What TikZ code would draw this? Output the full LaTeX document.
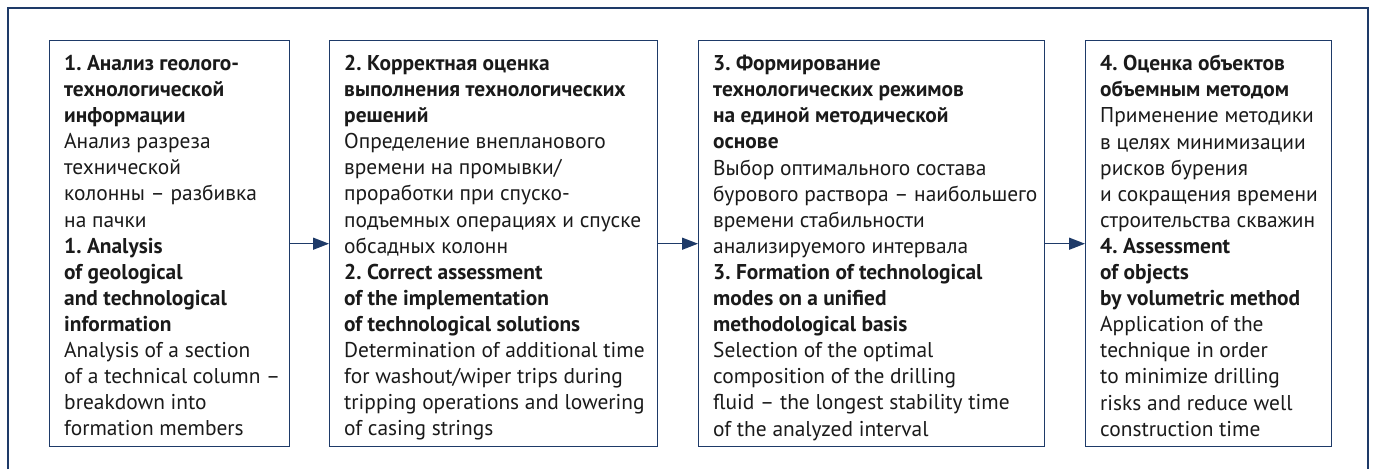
\documentclass[tikz,border=0pt]{standalone}
\usepackage{fontspec}
\setmainfont{PT Sans}
\usetikzlibrary{arrows.meta}
\definecolor{navy}{HTML}{1E3A68}
\definecolor{ink}{HTML}{1A1A1A}
\tikzset{
  stagebox/.style={draw=navy, line width=1.4pt, fill=white, anchor=north west,
    minimum height=406pt, inner sep=0pt},
  stagetext/.style={anchor=north west, inner sep=0pt, align=left, text=ink,
    font=\fontsize{21.4}{26.1}\selectfont},
  flow/.style={draw=navy, line width=1.4pt, -{Triangle[length=16pt,width=12pt]}, color=navy},
}
\newcommand{\hd}[1]{\textbf{#1}}
\begin{document}
\frenchspacing
\begin{tikzpicture}[x=1pt,y=-1pt]
\useasboundingbox (0,0) rectangle (1375,469);
% outer frame, open at the bottom
\draw[navy, line width=1.4pt] (8,469) -- (8,8) -- (1368,8) -- (1368,469);

% the four stage boxes
\node[stagebox, minimum width=240pt] (b1) at (49,40) {};
\node[stagebox, minimum width=328pt] (b2) at (329,40) {};
\node[stagebox, minimum width=346pt] (b3) at (698,40) {};
\node[stagebox, minimum width=246pt] (b4) at (1085,40) {};

\node[stagetext] (t1) at (64,55) {%
\hd{1. Анализ геолого-}\\
\hd{технологической}\\
\hd{информации}\\
Анализ разреза\\
технической\\
колонны – разбивка\\
на пачки\\
\hd{1. Analysis}\\
\hd{of geological}\\
\hd{and technological}\\
\hd{information}\\
Analysis of a section\\
of a technical column –\\
breakdown into\\
formation members};

\node[stagetext] (t2) at (344,55) {%
\hd{2. Корректная оценка}\\
\hd{выполнения технологических}\\
\hd{решений}\\
Определение внепланового\\
времени на промывки/\\
проработки при спуско-\\
подъемных операциях и спуске\\
обсадных колонн\\
\hd{2. Correct assessment}\\
\hd{of the implementation}\\
\hd{of technological solutions}\\
Determination of additional time\\
for washout/wiper trips during\\
tripping operations and lowering\\
of casing strings};

\node[stagetext] (t3) at (713,55) {%
\hd{3. Формирование}\\
\hd{технологических режимов}\\
\hd{на единой методической}\\
\hd{основе}\\
Выбор оптимального состава\\
бурового раствора – наибольшего\\
времени стабильности\\
анализируемого интервала\\
\hd{3. Formation of technological}\\
\hd{modes on a unified}\\
\hd{methodological basis}\\
Selection of the optimal\\
composition of the drilling\\
fluid – the longest stability time\\
of the analyzed interval};

\node[stagetext] (t4) at (1100,55) {%
\hd{4. Оценка объектов}\\
\hd{объемным методом}\\
Применение методики\\
в целях минимизации\\
рисков бурения\\
и сокращения времени\\
строительства скважин\\
\hd{4. Assessment}\\
\hd{of objects}\\
\hd{by volumetric method}\\
Application of the\\
technique in order\\
to minimize drilling\\
risks and reduce well\\
construction time};

\draw[flow] (b1.east) -- (b2.west);
\draw[flow] (b2.east) -- (b3.west);
\draw[flow] (b3.east) -- (b4.west);
\end{tikzpicture}
\end{document}
